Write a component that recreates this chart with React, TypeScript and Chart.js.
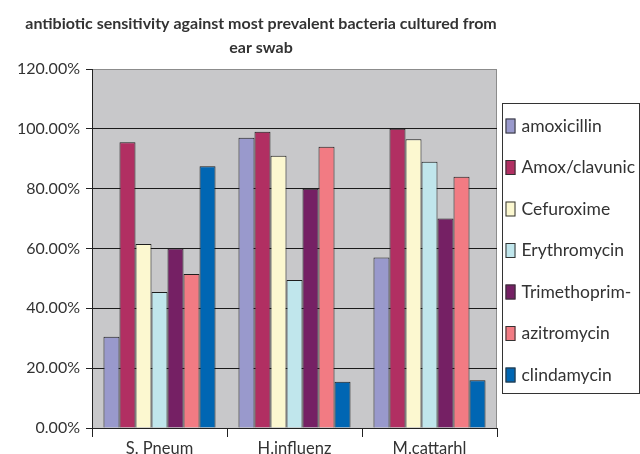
import React, { useEffect, useRef } from "react";
import { Chart, registerables } from "chart.js";

Chart.register(...registerables);

const titleLines = ["antibiotic sensitivity against most prevalent bacteria cultured from", "ear swab"];
const categories = ["S. Pneum", "H.influenz", "M.cattarhl"];
const seriesNames = ["amoxicillin", "Amox/clavunic", "Cefuroxime", "Erythromycin", "Trimethoprim-", "azitromycin", "clindamycin"];
const amoxicillin = [30.5, 97, 57];
const amoxClavunic = [95.5, 99, 100];
const cefuroxime = [61.5, 91, 96.5];
const erythromycin = [45.5, 49.5, 89];
const trimethoprim = [60, 80, 70];
const azitromycin = [51.5, 94, 84];
const clindamycin = [87.5, 15.5, 16];
const seriesValues = [amoxicillin, amoxClavunic, cefuroxime, erythromycin, trimethoprim, azitromycin, clindamycin];
const seriesColors = ["#9999cc", "#b12f62", "#fcf8d0", "#c0e6ec", "#752064", "#f27b83", "#0066b3"];
const yTickMin = 0;
const yTickMax = 120;
const yTickStep = 20;

const FONT = "Lato, 'DejaVu Sans', sans-serif";

const plotBackground = {
  id: "plotBackground",
  afterLayout(chart: any) {
    const t = chart.titleBlock;
    if (t) {
      t.left = 0;
      t.right = 522;
      t.width = 522;
    }
  },
  beforeDraw(chart: any) {
    const { ctx, chartArea: a } = chart;
    ctx.save();
    ctx.fillStyle = "#c8c8ca";
    ctx.fillRect(a.left, a.top, a.right - a.left, a.bottom - a.top);
    ctx.strokeStyle = "#8c8c8c";
    ctx.lineWidth = 1;
    ctx.beginPath();
    ctx.moveTo(a.left, a.top + 0.5);
    ctx.lineTo(a.right - 0.5, a.top + 0.5);
    ctx.lineTo(a.right - 0.5, a.bottom);
    ctx.stroke();
    ctx.restore();
  },
};

const boxedLegend = {
  id: "boxedLegend",
  afterDraw(chart: any) {
    const { ctx, chartArea: a } = chart;
    const left = a.right + 5.5;
    const top = 103.5;
    const right = 639.5;
    const bottom = 393.5;
    ctx.save();
    ctx.fillStyle = "#ffffff";
    ctx.fillRect(left, top, right - left, bottom - top);
    ctx.strokeStyle = "#333333";
    ctx.lineWidth = 1;
    ctx.strokeRect(left, top, right - left, bottom - top);
    ctx.font = `17.5px ${FONT}`;
    ctx.textBaseline = "middle";
    ctx.textAlign = "left";
    const ds = chart.data.datasets;
    const step = 41.5;
    ds.forEach((d: any, i: number) => {
      const cy = 126 + i * step;
      ctx.fillStyle = d.backgroundColor;
      ctx.fillRect(left + 3, cy - 7.5, 10, 15);
      ctx.strokeStyle = "#333333";
      ctx.strokeRect(left + 3.5, cy - 7, 9, 14);
      ctx.fillStyle = "#333333";
      ctx.fillText(d.label, left + 19, cy);
    });
    ctx.restore();
  },
};

export default function App() {
  const ref = useRef<HTMLCanvasElement | null>(null);
  useEffect(() => {
    if (!ref.current) return;
    const chart = new Chart(ref.current, {
      type: "bar",
      data: {
        labels: categories,
        datasets: seriesNames.map((name, i) => ({
          label: name,
          data: seriesValues[i],
          backgroundColor: seriesColors[i],
          borderColor: "#1e1e1e",
          borderWidth: 1,
          categoryPercentage: 0.83,
          barPercentage: 1,
        })),
      },
      options: {
        responsive: false,
        animation: false,
        layout: { padding: { left: 0, right: 143, top: 0, bottom: 0 } },
        plugins: {
          legend: { display: false },
          tooltip: { enabled: false },
          title: {
            display: true,
            text: titleLines,
            color: "#333333",
            font: { family: FONT, size: 16, weight: "bold", lineHeight: 24 / 16 },
            padding: { top: 12, bottom: 9 },
          },
        },
        scales: {
          x: {
            grid: { display: true, drawOnChartArea: false, offset: true, tickLength: 9, color: "#222222" },
            border: { display: true, color: "#222222", width: 1 },
            ticks: { color: "#333333", font: { family: FONT, size: 16.5 }, padding: 2 },
            afterFit: (s: any) => {
              s.height = 26;
            },
          },
          y: {
            min: yTickMin,
            max: yTickMax,
            ticks: {
              stepSize: yTickStep,
              color: "#333333",
              font: { family: FONT, size: 16 },
              padding: 6,
              callback: (v: any) => Number(v).toFixed(2) + "%",
            },
            grid: {
              color: (c: any) => (c.tick && c.tick.value === yTickMax ? "#8c8c8c" : "#1a1a1a"),
              tickColor: "#222222",
              tickLength: 6,
            },
            border: { display: true, color: "#222222", width: 1 },
            afterFit: (s: any) => {
              s.width = 92;
            },
          },
        },
      },
      plugins: [plotBackground, boxedLegend],
    });
    return () => chart.destroy();
  }, []);
  return (
    <div style={{ position: "fixed", left: 0, top: 0, width: 640, height: 454, background: "#fff" }}>
      <canvas ref={ref} width={640} height={454} style={{ display: "block" }} />
    </div>
  );
}
